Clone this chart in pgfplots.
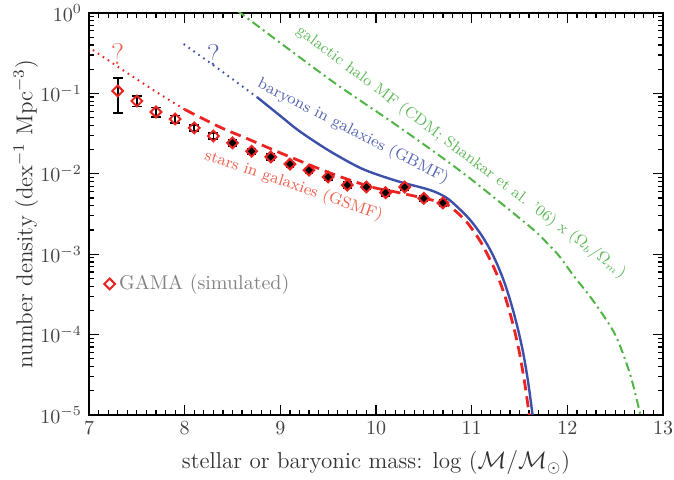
\documentclass[border=0pt]{standalone}
\usepackage{pgfplots}
\pgfplotsset{compat=1.18}

\definecolor{cred}{RGB}{235,35,35}
\definecolor{ctxtred}{RGB}{240,95,75}
\definecolor{cblue}{RGB}{60,80,170}
\definecolor{ctxtblue}{RGB}{85,100,180}
\definecolor{cgreen}{RGB}{80,180,70}
\definecolor{ctxtgreen}{RGB}{95,185,90}
\definecolor{cgray}{RGB}{130,130,130}

\pgfplotsset{
    gamaleg/.style={legend image code/.code={\draw[mark repeat=2,mark phase=2,##1]
        plot coordinates {(0cm,0cm) (0.16cm,0cm) (0.32cm,0cm)};}},
}

\begin{document}
\begin{tikzpicture}
\begin{axis}[
    width=287pt, height=201pt, scale only axis,
    xmin=7, xmax=13,
    ymode=log, ymin=1e-5, ymax=1,
    xtick={7,...,13}, minor x tick num=9,
    ytick={1e-5,1e-4,1e-3,1e-2,1e-1,1},
    axis line style={line width=0.9pt},
    tick style={black, line width=0.6pt},
    major tick length=5pt, minor tick length=2.5pt,
    tick label style={font=\fontsize{10}{12}\selectfont, text=black!75},
    label style={font=\fontsize{11.5}{14}\selectfont, text=black!80},
    xlabel={stellar or baryonic mass: log ($\mathcal{M}/\mathcal{M}_\odot$)},
    ylabel={number density (dex$^{-1}$ Mpc$^{-3}$)},
    xlabel style={at={(axis description cs:0.5,-0.119)}, anchor=center},
    ylabel style={at={(axis description cs:-0.11,0.5)}, anchor=center},
    legend style={at={(0.026,0.326)}, anchor=west, draw=none, fill=none,
        inner sep=0pt, font=\fontsize{10}{12}\selectfont, text=cgray},
    legend cell align=left,
]

% galactic halo mass function
\addplot[cgreen, line width=1pt, smooth, forget plot,
    dash pattern=on 4.5pt off 2pt on 1pt off 2pt] coordinates {
    (8.55,1.07) (9.52,0.148) (10.22,0.0398) (10.91,0.01023) (11.61,0.00219)
    (11.78,0.00141) (11.92,9.33e-4) (12.06,5.5e-4) (12.24,2.95e-4)
    (12.41,1.51e-4) (12.50,1.0e-4) (12.58,5.89e-5) (12.67,2.82e-5)
    (12.76,1.05e-5) (12.80,6.3e-6)
};

% baryons in galaxies
\addplot[cblue, line width=1pt, forget plot, dash pattern=on 0.8pt off 2.2pt] coordinates {
    (7.99,0.411) (8.36,0.1995) (8.76,0.0891)
};
\addplot[cblue, line width=1.2pt, smooth, forget plot] coordinates {
    (8.76,0.0891) (9.0,0.0525) (9.2,0.0339) (9.52,0.01905) (9.86,0.01148)
    (10.22,0.00813) (10.56,0.00631) (10.74,0.00501) (10.91,0.00331)
    (11.00,0.00253) (11.09,0.001816) (11.16,0.001337) (11.22,9.86e-4)
    (11.28,6.89e-4) (11.33,4.88e-4) (11.38,3.26e-4) (11.43,2.06e-4)
    (11.49,1.09e-4) (11.54,5.78e-5) (11.59,2.58e-5) (11.64,9.2e-6) (11.66,5e-6)
};

% stars in galaxies
\addplot[cred, line width=1pt, forget plot, dash pattern=on 0.8pt off 2.2pt] coordinates {
    (7.04,0.347) (7.38,0.186) (7.70,0.1047) (8.0,0.0631)
};
\addplot[cred, line width=1.4pt, smooth, forget plot, dash pattern=on 5.5pt off 3pt] coordinates {
    (8.0,0.0631) (8.37,0.0380) (8.65,0.0275) (9.0,0.0182) (9.52,0.01023)
    (9.94,0.00692) (10.22,0.00589) (10.56,0.00479) (10.74,0.00417)
    (10.91,0.00282) (11.00,0.00209) (11.09,0.00145) (11.16,0.00102)
    (11.23,6.92e-4) (11.30,4.37e-4) (11.35,2.95e-4) (11.40,1.86e-4)
    (11.45,1.10e-4) (11.50,5.89e-5) (11.55,2.69e-5) (11.59,1.26e-5) (11.62,6.3e-6)
};

% GAMA (simulated) points
\addplot[only marks, mark=square, mark size=1.9pt, gamaleg,
    mark options={rotate=45, solid, draw=cred, line width=1pt},
    error bars/.cd, y dir=both, y explicit,
    error bar style={black, line width=0.8pt},
    error mark options={black, line width=0.8pt, mark size=2.5pt, rotate=90},
    ] coordinates {
    (7.3,0.1072) += (0,0.048) -= (0,0.050)
    (7.5,0.0804) +- (0,0.012)
    (7.7,0.0587) +- (0,0.008)
    (7.9,0.0481) +- (0,0.005)
    (8.1,0.0372) +- (0,0.003)
    (8.3,0.0295) +- (0,0.0025)
};
\addlegendentry{GAMA (simulated)}
\addplot[only marks, mark=square*, mark size=1.9pt, forget plot,
    mark options={rotate=45, solid, draw=cred, fill=black, line width=1pt},
    error bars/.cd, y dir=both, y explicit,
    error bar style={black, line width=0.8pt},
    error mark options={black, line width=0.8pt, mark size=2.2pt, rotate=90},
    ] coordinates {
    (8.5,0.0242) +- (0,0.0019)
    (8.7,0.0191) +- (0,0.0015)
    (8.9,0.0162) +- (0,0.0013)
    (9.1,0.0132) +- (0,0.0011)
    (9.3,0.0111) +- (0,0.0009)
    (9.5,0.00912) +- (0,0.0007)
    (9.7,0.00724) +- (0,0.0006)
    (9.9,0.00685) +- (0,0.0005)
    (10.1,0.00582) +- (0,0.0005)
    (10.3,0.00684) +- (0,0.0005)
    (10.5,0.00495) +- (0,0.0004)
    (10.7,0.00434) +- (0,0.0004)
};

% curve labels
\node[rotate=-37, text=ctxtgreen, font=\fontsize{7.8}{9}\selectfont]
    at (axis cs:10.89,0.0185) {galactic halo MF (CDM; Shankar et al. '06) x $(\Omega_b/\Omega_m)$};
\node[rotate=-27, text=ctxtblue, font=\fontsize{8}{9}\selectfont]
    at (axis cs:9.76,0.0335) {baryons in galaxies (GBMF)};
\node[rotate=-19, text=ctxtred, font=\fontsize{8}{9}\selectfont]
    at (axis cs:9.14,0.0071) {stars in galaxies (GSMF)};
\node[text=ctxtred, font=\fontsize{15}{18}\selectfont] at (axis cs:7.30,0.31) {?};
\node[text=ctxtblue, font=\fontsize{15}{18}\selectfont] at (axis cs:8.30,0.30) {?};
\end{axis}
\pgfresetboundingbox
\useasboundingbox ([xshift=-44.5pt,yshift=-32.5pt]current axis.south west)
    rectangle ([xshift=5.5pt,yshift=6.5pt]current axis.north east);
\end{tikzpicture}
\end{document}
